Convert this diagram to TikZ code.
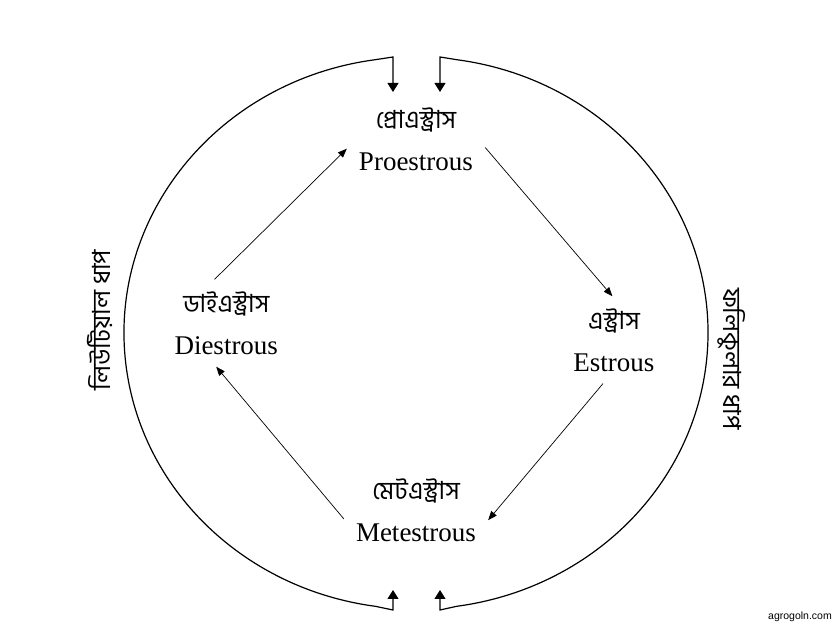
\documentclass[tikz,border=0pt]{standalone}
\usepackage{fontspec}
\setmainfont{Liberation Serif}
\newfontfamily\bengali[Script=Bengali]{Hind Siliguri}
\newfontfamily\webfont{Liberation Sans}
\usetikzlibrary{arrows.meta}
\newcommand\bn{\fontsize{25}{42}\selectfont\bengali}
\tikzset{
  stage/.style={align=center, inner sep=12pt, font=\fontsize{27}{42}\selectfont},
  phase/.style={font=\fontsize{25}{28}\selectfont\bengali},
  ring/.style={line width=1.2pt, {Triangle[length=9pt,width=11pt]}-{Triangle[length=9pt,width=11pt]}},
  step arrow/.style={line width=0.7pt, -{Triangle[length=9pt,width=7pt]}}
}
\begin{document}
\begin{tikzpicture}[x=1pt,y=1pt]
      \useasboundingbox (-416,-295) rectangle (420,333);
      \draw
        (90:194) node[stage] (pro){{\bn প্রোএস্ট্রাস}\\Proestrous}
        (-2:198) node[stage] (est){{\bn এস্ট্রাস}\\Estrous}
        (270:177) node[stage] (met){{\bn মেটএস্ট্রাস}\\Metestrous}
        (177:190) node[stage] (dies){{\bn ডাইএস্ট্রাস}\\Diestrous};
      \begin{scope}[step arrow]
        \draw (dies.105) to (pro.188);
        \draw (pro.-7) to (est.92);
        \draw (est.256) to (met.-8);
        \draw (met.187) to (dies.257);
      \end{scope}
      % luteal and follicular phases
      \coordinate (lt) at (-23,241);
      \coordinate (lb) at (-23,-257);
      \coordinate (rt) at (24,241);
      \coordinate (rb) at (24,-257);
      \draw[ring] (lt) -- (-23,276) -- (98:292 and 276)
        arc[start angle=98, end angle=262, x radius=292, y radius=276]
        -- (-23,-277) -- (lb);
      \draw[ring] (rt) -- (24,276) -- (82:292 and 276)
        arc[start angle=82, end angle=-82, x radius=292, y radius=276]
        -- (24,-277) -- (rb);
      \node[phase, rotate=90] (luteal) at (-316,13) {লিউটিয়াল ধাপ};
      \node[phase, rotate=-90] (follicular) at (316,-26) {ফলিকুলার ধাপ};
      \node[font=\fontsize{10.5}{12}\selectfont\webfont] (site) at (384,-284) {agrogoln.com};
    \end{tikzpicture}
\end{document}
